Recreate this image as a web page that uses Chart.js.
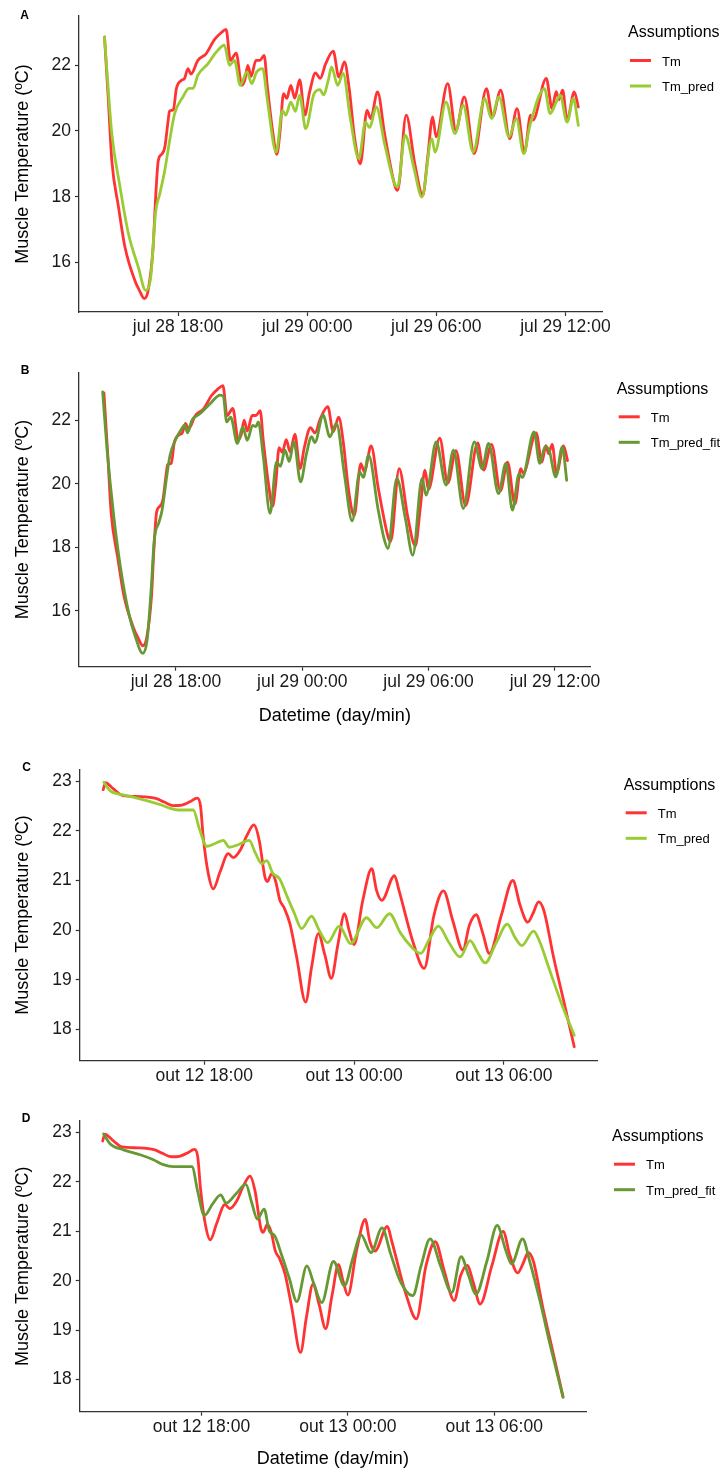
<!DOCTYPE html>
<html>
<head>
<meta charset="utf-8">
<title>Muscle temperature: measured vs predicted</title>
<script src="https://cdn.jsdelivr.net/npm/chart.js@4.4.1/dist/chart.umd.min.js"></script>
<style>
  html, body { margin: 0; padding: 0; background: #ffffff; }
  #page { position: relative; width: 724px; height: 1470px; overflow: hidden; }
  .panel { position: absolute; left: 0; width: 724px; }
  .panel canvas { display: block; }
</style>
</head>
<body>
<div id="page">
  <div class="panel" style="top:0px;height:340px"><canvas id="panelA" width="724" height="340"></canvas></div>
  <div class="panel" style="top:340px;height:395px"><canvas id="panelB" width="724" height="395"></canvas></div>
  <div class="panel" style="top:735px;height:365px"><canvas id="panelC" width="724" height="365"></canvas></div>
  <div class="panel" style="top:1100px;height:370px"><canvas id="panelD" width="724" height="370"></canvas></div>
</div>
<script>
// ---- July deployment (hours counted from jul 28 00:00) ----
const julTmHours = [14.58,14.76,14.92,15.23,15.53,15.99,16.2,16.43,16.61,16.84,16.95,17.08,17.25,17.38,17.54,17.6,17.78,17.92,18.15,18.3,18.46,18.6,18.92,19.3,19.69,20.0,20.23,20.43,20.7,20.96,21.1,21.24,21.39,21.62,21.8,22.0,22.15,22.39,22.59,22.74,22.9,23.05,23.24,23.42,23.65,23.89,24.1,24.39,24.6,24.86,25.21,25.47,25.73,25.95,26.2,26.47,26.78,26.95,27.27,27.6,28.09,28.2,28.6,29.0,29.37,29.6,29.83,29.99,30.53,30.91,31.3,31.76,32.33,32.61,32.99,33.41,33.75,34.1,34.38,34.49,35.11,35.38,35.57,35.7,35.87,36.08,36.41,36.6];
const julTm = [22.86,20.93,19.1,17.69,16.47,15.45,15.15,14.9,15.15,16.47,17.9,19.1,19.3,19.5,20.33,20.6,20.65,21.29,21.54,21.6,21.9,21.73,22.15,22.35,22.78,22.99,23.09,22.15,22.37,21.39,21.55,22.0,21.66,22.15,22.15,22.3,21.34,20.02,19.29,20.0,21.14,20.99,21.39,21.0,21.56,20.48,21.15,21.77,21.6,22.05,22.43,21.64,22.1,21.3,19.8,19.0,20.63,20.38,21.19,19.9,18.3,18.19,20.48,19.0,18.04,19.2,20.43,19.82,21.44,20.02,21.04,19.31,21.29,20.43,21.24,19.77,20.68,19.36,20.48,20.33,21.6,20.68,21.2,20.95,21.24,20.33,21.19,20.73];

const julPredHours = [14.58,14.92,15.3,15.69,16.15,16.49,16.73,16.95,17.15,17.38,17.61,17.84,18.23,18.5,18.7,18.92,19.39,19.77,20.15,20.39,20.62,20.89,21.2,21.42,21.65,21.93,22.15,22.56,22.85,23.0,23.24,23.45,23.65,23.93,24.32,24.6,24.75,25.0,25.13,25.42,25.67,26.0,26.4,26.71,26.9,27.21,27.6,28.09,28.2,28.55,28.95,29.33,29.79,29.94,30.45,30.87,31.25,31.71,32.25,32.56,32.91,33.38,33.72,34.06,34.35,35.03,35.29,35.57,35.75,36.08,36.37,36.6];
const julPred = [22.86,19.92,18.3,16.88,15.86,15.15,15.56,17.5,18.09,18.8,19.72,20.53,21.04,21.3,21.3,21.7,22.05,22.4,22.61,22.0,22.15,21.39,21.8,21.44,21.8,21.9,20.93,19.36,20.63,20.48,20.88,20.6,21.09,20.07,21.14,21.26,21.1,21.6,21.95,21.39,21.75,20.4,19.16,20.27,20.1,20.73,19.6,18.35,18.3,19.87,18.9,17.99,19.77,19.36,20.88,19.92,20.78,19.36,20.99,20.38,21.04,19.82,20.38,19.31,20.17,21.29,20.53,20.88,21.09,20.27,20.99,20.17];

const julFitHours = [14.52,14.73,15.05,15.36,15.76,16.07,16.42,16.63,16.82,16.97,17.2,17.34,17.57,17.72,17.97,18.28,18.42,18.55,18.76,19.15,19.62,20.1,20.25,20.41,20.6,20.92,21.17,21.39,21.64,21.8,21.91,22.15,22.47,22.78,22.96,23.18,23.38,23.6,23.92,24.2,24.44,24.6,24.99,25.31,25.62,26.0,26.37,26.73,26.9,27.15,27.6,27.9,28.07,28.49,28.9,29.25,29.69,29.88,30.36,30.83,31.18,31.65,32.17,32.54,32.85,33.32,33.67,33.98,34.3,34.45,35.01,35.28,35.53,35.7,36.04,36.35,36.56];
const julFit = [22.89,21.06,18.96,17.39,15.92,15.19,14.66,15.08,16.65,18.23,18.8,19.17,20.27,20.9,21.37,21.74,21.85,21.6,22.0,22.21,22.52,22.79,22.75,21.95,22.1,21.27,21.79,21.37,21.84,21.8,21.95,20.85,19.07,20.69,20.55,21.06,20.7,21.32,20.06,20.95,21.48,21.3,22.16,21.48,21.9,20.3,18.83,20.37,20.2,20.9,19.2,18.23,17.96,20.17,18.9,17.75,20.17,19.64,21.32,19.96,21.06,19.22,21.32,20.48,21.27,19.69,20.64,19.17,20.32,20.2,21.63,20.64,21.16,21.1,20.22,21.16,20.11];

const julTickHours = [18, 24, 30, 36];
const julTickLabels = ['jul 28 18:00', 'jul 29 00:00', 'jul 29 06:00', 'jul 29 12:00'];
const julTempTicks = [16, 18, 20, 22];

// ---- October deployment (hours counted from out 12 00:00) ----
const outTmHours = [13.95,14.05,14.2,14.35,14.75,15.42,16.09,16.4,16.76,17.1,17.4,17.72,17.85,17.96,18.16,18.36,18.63,18.96,19.16,19.45,19.7,19.99,20.2,20.43,20.53,20.7,20.85,21.03,21.2,21.43,21.7,22.06,22.3,22.57,22.83,23.09,23.35,23.62,23.8,24.0,24.35,24.71,24.9,25.11,25.62,25.8,26.38,26.81,27.2,27.58,27.95,28.36,28.62,28.89,29.15,29.42,29.9,30.36,30.65,30.96,31.18,31.39,31.6,31.99,32.39,32.82];
const outTm = [22.83,22.97,22.92,22.85,22.71,22.69,22.65,22.58,22.51,22.52,22.58,22.66,22.5,21.87,21.14,20.83,21.17,21.54,21.46,21.62,21.9,22.12,21.81,21.07,20.98,21.14,21.0,20.6,20.45,20.13,19.46,18.55,19.26,19.93,19.5,19.03,19.7,20.33,20.0,19.71,20.6,21.24,20.8,20.6,21.1,20.8,19.73,19.23,20.3,20.79,20.2,19.6,20.1,20.31,19.95,19.53,20.3,21.0,20.5,20.16,20.35,20.57,20.4,19.46,18.59,17.65];

const outPredHours = [13.98,14.22,14.6,15.15,15.69,16.22,16.6,17.03,17.56,17.8,18.1,18.45,18.76,19.0,19.4,19.8,20.05,20.3,20.5,20.75,21.01,21.3,21.6,21.9,22.3,22.6,22.94,23.41,23.86,24.5,24.91,25.42,25.85,26.25,26.67,27.0,27.38,27.8,28.25,28.65,28.95,29.25,29.7,30.14,30.45,30.72,31.19,31.45,31.79,32.26,32.82];
const outPred = [22.98,22.81,22.74,22.68,22.61,22.53,22.46,22.42,22.42,22.05,21.69,21.75,21.81,21.67,21.73,21.81,21.55,21.34,21.4,21.14,21.04,20.7,20.35,20.03,20.28,20.0,19.75,20.08,19.73,20.25,20.05,20.33,19.95,19.69,19.53,19.8,20.08,19.75,19.46,19.79,19.55,19.34,19.75,20.12,19.85,19.69,19.98,19.75,19.26,18.59,17.88];

const outFitHours = [13.99,14.26,14.81,15.49,16.03,16.44,16.85,17.61,17.85,18.12,18.45,18.79,19.01,19.4,19.82,20.05,20.29,20.57,20.78,21.0,21.3,21.6,21.91,22.32,22.6,22.93,23.41,23.86,24.2,24.54,24.95,25.4,25.75,26.14,26.66,27.0,27.37,27.8,28.26,28.64,28.95,29.25,29.7,30.12,30.45,30.71,31.16,31.45,31.87,32.28,32.82];
const outFit = [22.97,22.77,22.65,22.55,22.45,22.35,22.31,22.31,21.8,21.32,21.55,21.74,21.57,21.75,21.95,21.6,21.25,21.45,21.01,20.91,20.5,20.05,19.58,20.3,19.95,19.56,20.39,19.9,20.45,20.93,20.57,21.07,20.55,20.0,19.7,20.3,20.85,20.3,19.76,20.49,20.1,19.73,20.4,21.12,20.65,20.34,20.85,20.4,19.6,18.72,17.64];

const outTickHours = [18, 24, 30];
const outTickLabels = ['out 12 18:00', 'out 13 00:00', 'out 13 06:00'];
const outTempTicks = [18, 19, 20, 21, 22, 23];

// ---- shared look ----
const FONT = '"Liberation Sans", Arial, Helvetica, sans-serif';
const RED = '#FF3333';
const LIGHT_GREEN = '#99CC33';
const DARK_GREEN = '#669933';
const AXIS = '#333333';

const toPoints = (hours, values) => hours.map((h, i) => ({ x: h, y: values[i] }));

// Panel letter and the "Assumptions" key, placed beside the plot area.
const panelDecor = {
  id: 'panelDecor',
  afterDraw(chart, args, o) {
    const { ctx, chartArea } = chart;
    ctx.save();
    ctx.fillStyle = '#000';
    ctx.textAlign = 'center';
    ctx.textBaseline = 'middle';
    ctx.font = 'bold 12px ' + FONT;
    ctx.fillText(o.letter, o.letterX, o.letterY);

    const x0 = chartArea.right + 26;
    const y0 = chartArea.top + o.keyTop;
    ctx.textAlign = 'left';
    ctx.font = '16px ' + FONT;
    ctx.fillText(o.keyTitle, x0, y0);
    chart.data.datasets.forEach((ds, i) => {
      const y = y0 + 27.5 + i * 25.5;
      ctx.strokeStyle = ds.borderColor;
      ctx.lineWidth = 3;
      ctx.lineCap = 'butt';
      ctx.beginPath();
      ctx.moveTo(x0 + 2, y);
      ctx.lineTo(x0 + 23, y);
      ctx.stroke();
      ctx.font = '13px ' + FONT;
      ctx.fillStyle = '#000';
      ctx.fillText(ds.label, x0 + 34, y + 1.5);
    });
    ctx.restore();
  }
};

function buildPanel(p) {
  const datasets = p.series.map(s => ({
    label: s.label,
    data: toPoints(s.hours, s.values),
    borderColor: s.color,
    backgroundColor: s.color,
    borderWidth: 2.8,
    pointRadius: 0,
    pointHoverRadius: 0,
    fill: false,
    cubicInterpolationMode: 'monotone',
    borderJoinStyle: 'round',
    borderCapStyle: 'round',
    order: s.order
  }));

  return new Chart(document.getElementById(p.canvas), {
    type: 'line',
    data: { datasets },
    plugins: [panelDecor],
    options: {
      responsive: false,
      animation: false,
      events: [],
      layout: { padding: { top: p.padTop, right: p.padRight, left: 0, bottom: 0 } },
      plugins: {
        legend: { display: false },
        tooltip: { enabled: false },
        panelDecor: { letter: p.letter, letterX: p.letterX, letterY: p.letterY, keyTitle: 'Assumptions', keyTop: p.keyTop }
      },
      scales: {
        x: {
          type: 'linear',
          min: p.xMin,
          max: p.xMax,
          afterBuildTicks: s => { s.ticks = p.xTicks.map(v => ({ value: v })); },
          afterFit: s => { s.height = p.xHeight; },
          ticks: {
            autoSkip: false,
            maxRotation: 0,
            padding: 1,
            color: '#1a1a1a',
            font: { family: FONT, size: 17.5 },
            callback: v => p.xLabels[p.xTicks.indexOf(v)]
          },
          grid: { drawOnChartArea: false, drawTicks: true, tickLength: 4, tickColor: AXIS, tickWidth: 1.2 },
          border: { display: true, color: AXIS, width: 1.3 },
          title: {
            display: p.xTitle !== '',
            text: p.xTitle,
            color: '#000',
            font: { family: FONT, size: 18 },
            padding: { top: 0, bottom: p.xTitlePad }
          }
        },
        y: {
          type: 'linear',
          min: p.yMin,
          max: p.yMax,
          afterBuildTicks: s => { s.ticks = p.yTicks.map(v => ({ value: v })); },
          afterFit: s => { s.width = p.yWidth; },
          ticks: {
            padding: 4,
            color: '#1a1a1a',
            font: { family: FONT, size: 17.5 },
            callback: v => String(v)
          },
          grid: { drawOnChartArea: false, drawTicks: true, tickLength: 4, tickColor: AXIS, tickWidth: 1.2 },
          border: { display: true, color: AXIS, width: 1.3 },
          title: {
            display: true,
            text: 'Muscle Temperature (ºC)',
            color: '#000',
            font: { family: FONT, size: 18 },
            padding: { top: 12, bottom: 0 }
          }
        }
      }
    }
  });
}

const julX = { xMin: 13.395, xMax: 37.7, xTicks: julTickHours, xLabels: julTickLabels, yTicks: julTempTicks };
const outX = { xMin: 13.01, xMax: 33.76, xTicks: outTickHours, xLabels: outTickLabels, yTicks: outTempTicks };

buildPanel(Object.assign({}, julX, {
  canvas: 'panelA', letter: 'A', letterX: 24.7, letterY: 15.5, keyTop: 17,
  padTop: 16, padRight: 122, yWidth: 79, xHeight: 28, xTitle: '', xTitlePad: 0,
  yMin: 14.49, yMax: 23.5,
  series: [
    { label: 'Tm', hours: julTmHours, values: julTm, color: RED, order: 1 },
    { label: 'Tm_pred', hours: julPredHours, values: julPred, color: LIGHT_GREEN, order: 0 }
  ]
}));

buildPanel(Object.assign({}, julX, {
  canvas: 'panelB', letter: 'B', letterX: 25, letterY: 30.5, keyTop: 17,
  padTop: 32.3, padRight: 133.3, yWidth: 79, xHeight: 68.3, xTitle: 'Datetime (day/min)', xTitlePad: 8.5,
  yMin: 14.24, yMax: 23.51,
  series: [
    { label: 'Tm', hours: julTmHours, values: julTm, color: RED, order: 1 },
    { label: 'Tm_pred_fit', hours: julFitHours, values: julFit, color: DARK_GREEN, order: 0 }
  ]
}));

buildPanel(Object.assign({}, outX, {
  canvas: 'panelC', letter: 'C', letterX: 26.7, letterY: 32.5, keyTop: 16,
  padTop: 34.3, padRight: 126.3, yWidth: 79.7, xHeight: 39.3, xTitle: '', xTitlePad: 0,
  yMin: 17.37, yMax: 23.24,
  series: [
    { label: 'Tm', hours: outTmHours, values: outTm, color: RED, order: 1 },
    { label: 'Tm_pred', hours: outPredHours, values: outPred, color: LIGHT_GREEN, order: 0 }
  ]
}));

buildPanel(Object.assign({}, outX, {
  canvas: 'panelD', letter: 'D', letterX: 26.2, letterY: 19, keyTop: 16,
  padTop: 20.7, padRight: 138, yWidth: 79.7, xHeight: 58.3, xTitle: 'Datetime (day/min)', xTitlePad: 0,
  yMin: 17.35, yMax: 23.24,
  series: [
    { label: 'Tm', hours: outTmHours, values: outTm, color: RED, order: 1 },
    { label: 'Tm_pred_fit', hours: outFitHours, values: outFit, color: DARK_GREEN, order: 0 }
  ]
}));
</script>
</body>
</html>
